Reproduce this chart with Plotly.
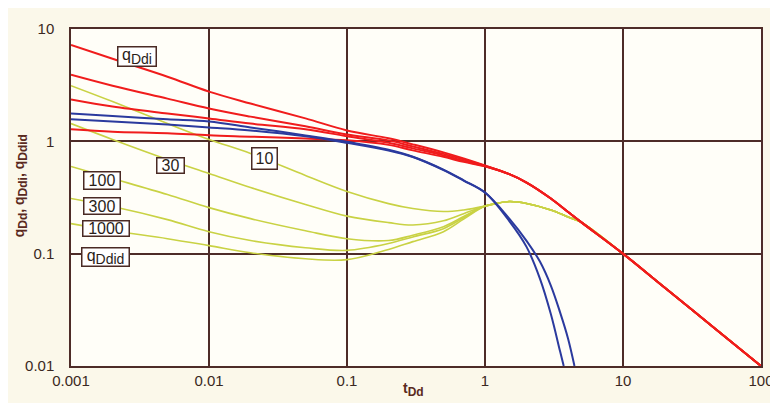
import plotly.graph_objects as go

# ---- data (log-log type curves) ----
t_red = [0.001, 0.002, 0.005, 0.01, 0.02, 0.05, 0.1, 0.2, 0.3, 0.5, 0.7, 1,
         1.5, 2, 3, 4, 5, 10, 20, 50, 100]
red_late = [0.51, 0.43, 0.31, 0.235, 0.19, 0.10, 0.050, 0.020, 0.010]
red_1 = [7.21, 5.43, 3.76, 2.77, 2.17, 1.60, 1.25, 1.063, 0.94, 0.798, 0.705, 0.61] + red_late
red_2 = [3.92, 3.13, 2.40, 1.96, 1.66, 1.36, 1.15, 1.02, 0.90, 0.773, 0.69, 0.605] + red_late
red_3 = [2.36, 2.04, 1.77, 1.60, 1.44, 1.28, 1.11, 0.97, 0.866, 0.75, 0.67, 0.60] + red_late
red_4 = [1.28, 1.22, 1.18, 1.13, 1.10, 1.06, 1.02, 0.93, 0.831, 0.728, 0.656, 0.60] + red_late

t_blue_1 = [0.001, 0.002, 0.005, 0.01, 0.02, 0.05, 0.1, 0.2, 0.3, 0.5, 0.7, 1,
            1.5, 2, 2.5, 3, 3.5, 3.72]
blue_1 = [1.77, 1.68, 1.57, 1.50, 1.33, 1.13, 0.99, 0.84, 0.73, 0.56, 0.45, 0.35,
          0.195, 0.115, 0.060, 0.029, 0.0135, 0.010]
t_blue_2 = [0.001, 0.002, 0.005, 0.01, 0.02, 0.05, 0.1, 0.2, 0.3, 0.5, 0.7, 1,
            1.5, 2, 2.5, 3, 3.5, 4, 4.45]
blue_2 = [1.57, 1.50, 1.41, 1.33, 1.25, 1.11, 0.97, 0.83, 0.725, 0.555, 0.447, 0.35,
          0.205, 0.13, 0.085, 0.052, 0.030, 0.0175, 0.010]

t_yellow = [0.001, 0.002, 0.005, 0.01, 0.02, 0.05, 0.1, 0.2, 0.3, 0.5, 0.7, 1,
            1.2, 1.5, 2, 3, 4, 5, 10, 20, 50, 100]
yellow_late = [0.279, 0.291, 0.28, 0.245, 0.212, 0.19, 0.10, 0.050, 0.020, 0.010]
yellow_10 = [3.13, 2.26, 1.44, 1.04, 0.78, 0.497, 0.358, 0.279, 0.252, 0.237, 0.245, 0.265] + yellow_late
yellow_30 = [1.44, 1.04, 0.69, 0.518, 0.388, 0.274, 0.216, 0.189, 0.180, 0.196, 0.227, 0.265] + yellow_late
yellow_100 = [0.598, 0.467, 0.336, 0.257, 0.205, 0.160, 0.136, 0.131, 0.146, 0.174, 0.214, 0.265] + yellow_late
yellow_300 = [0.31, 0.263, 0.201, 0.157, 0.131, 0.113, 0.107, 0.123, 0.141, 0.167, 0.209, 0.265] + yellow_late
yellow_1000 = [0.185, 0.160, 0.136, 0.118, 0.102, 0.090, 0.0885, 0.109, 0.128, 0.157, 0.203, 0.265] + yellow_late

x_ticks = [0.001, 0.01, 0.1, 1, 10, 100]
x_tick_text = ["0.001", "0.01", "0.1", "1", "10", "100"]
y_ticks = [0.01, 0.1, 1, 10]
y_tick_text = ["0.01", "0.1", "1", "10"]

RED = "#f01c1c"
BLUE = "#2b3a9e"
YEL = "#c9d244"
GRID = "#4e2c28"
TXT = "#3a2822"
FONT = "Liberation Sans, Arial, sans-serif"

fig = go.Figure()
for ys in [yellow_10, yellow_30, yellow_100, yellow_300, yellow_1000]:
    fig.add_trace(go.Scatter(x=t_yellow, y=ys, mode="lines",
                             line=dict(color=YEL, width=1.6, shape="spline", smoothing=1.0),
                             showlegend=False, hoverinfo="skip"))
for ys in [red_1, red_2, red_3, red_4]:
    fig.add_trace(go.Scatter(x=t_red, y=ys, mode="lines",
                             line=dict(color=RED, width=2, shape="spline", smoothing=1.0),
                             showlegend=False, hoverinfo="skip"))
for xs, ys in [(t_blue_1, blue_1), (t_blue_2, blue_2)]:
    fig.add_trace(go.Scatter(x=xs, y=ys, mode="lines",
                             line=dict(color=BLUE, width=2, shape="spline", smoothing=1.0),
                             showlegend=False, hoverinfo="skip"))

axis_common = dict(type="log", showgrid=True, gridcolor=GRID, gridwidth=1.5,
                   showline=True, linecolor=GRID, linewidth=1.5, mirror=True,
                   zeroline=False, ticks="",
                   tickfont=dict(family=FONT, size=15, color=TXT))
fig.update_xaxes(range=[-3, 2], tickvals=x_ticks, ticktext=x_tick_text,
                 ticklabelstandoff=0, **axis_common)
fig.update_yaxes(range=[-2, 1], tickvals=y_ticks, ticktext=y_tick_text,
                 ticklabelstandoff=12, **axis_common)


def sub(s, size):
    return "<sub><span style='font-size:%dpx'>%s</span></sub>" % (size, s)


# label text, paper x, paper y, box width, box height
labels = [
    ("q" + sub("Ddi", 14), 0.0957, 0.917, 37, 18),
    ("10", 0.281, 0.615, 24, 20),
    ("30", 0.144, 0.595, 26, 14),
    ("100", 0.0443, 0.550, 35, 16),
    ("300", 0.0443, 0.476, 35, 15),
    ("1000", 0.0514, 0.408, 45, 14),
    ("q" + sub("Ddid", 14), 0.050, 0.322, 46, 17),
]
annots = []
for txt, ax, ay, w, h in labels:
    annots.append(dict(text=txt, x=ax, y=ay, xref="paper", yref="paper",
                       xanchor="center", yanchor="middle", showarrow=False,
                       width=w, height=h, align="center", valign="middle",
                       font=dict(family=FONT, size=16, color="#2a1e1a"),
                       bgcolor="#ffffff", bordercolor="#4a2a24", borderwidth=1.5, borderpad=0))
annots.append(dict(text="<b>t" + sub("Dd", 12) + "</b>", x=0.497, y=-0.105, xref="paper", yref="paper",
                   xanchor="center", yanchor="bottom", showarrow=False,
                   font=dict(family=FONT, size=14, color="#5a2a1e")))
annots.append(dict(text="<b>q" + sub("Dd", 12) + ", q" + sub("Ddi", 12) + ", q" + sub("Ddid", 12) + "</b>",
                   x=-0.074, y=0.536, xref="paper", yref="paper", textangle=-90,
                   xanchor="center", yanchor="middle", showarrow=False,
                   font=dict(family=FONT, size=14, color="#5a2a1e")))

fig.update_layout(width=778, height=403, margin=dict(l=63, r=15, t=20, b=45),
                  paper_bgcolor="#fbf8ea", plot_bgcolor="#fffef8",
                  annotations=annots)
fig.write_html("out.html")
